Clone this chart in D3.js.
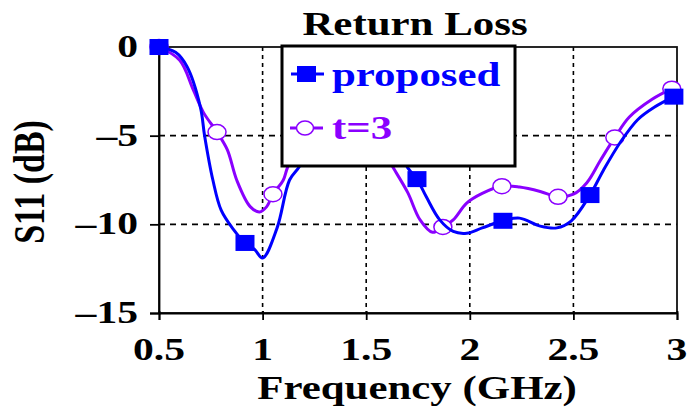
<!DOCTYPE html>
<html>
<head>
<meta charset="utf-8">
<script src="https://cdn.jsdelivr.net/npm/d3@7"></script>
<style>
  html, body { margin: 0; padding: 0; background: #fff; }
  svg { display: block; }
  text { font-family: "Liberation Serif", "Times New Roman", serif; font-weight: bold; }
</style>
</head>
<body>
<svg id="chart" width="689" height="407"></svg>
<script>
// Measured return loss, S11 (dB) vs frequency (GHz)
const proposedFreq = [0.50, 0.58, 0.635, 0.70, 0.72, 0.76, 0.80, 0.86, 0.915, 0.96, 1.00, 1.07, 1.13, 1.18,
  1.26, 1.33, 1.45, 1.60, 1.70, 1.745, 1.79, 1.855, 1.92, 1.985, 2.06, 2.16, 2.24, 2.34, 2.42, 2.49,
  2.58, 2.645, 2.725, 2.81, 2.89, 2.985];
const proposedS11 = [0, -0.3, -1.1, -3.4, -5.0, -7.5, -9.2, -10.3, -11.05, -11.4, -11.9, -10.2, -7.5, -6.7,
  -4.6, -3.0, -2.6, -4.5, -6.8, -7.45, -8.45, -9.75, -10.4, -10.5, -10.2, -9.8, -9.65, -10.1, -10.2, -9.8,
  -8.35, -6.95, -5.4, -4.1, -3.4, -2.8];
const proposedMarkIdx = [0, 8, 15, 19, 25, 30, 35];

const t3Freq = [0.50, 0.60, 0.665, 0.715, 0.78, 0.83, 0.875, 0.94, 0.985, 1.02, 1.05, 1.10, 1.12,
  1.22, 1.32, 1.45, 1.59, 1.63, 1.70, 1.76, 1.82, 1.87, 1.92, 1.985, 2.06, 2.155, 2.24, 2.34, 2.426,
  2.50, 2.565, 2.63, 2.70, 2.77, 2.88, 2.975];
const t3S11 = [0, -0.75, -2.4, -3.7, -4.8, -5.8, -7.5, -9.0, -9.3, -9.0, -8.3, -7.5, -6.8,
  -4.2, -2.6, -2.4, -6.0, -6.8, -8.2, -9.75, -10.45, -10.15, -9.75, -8.8, -8.25, -7.85, -7.9, -8.15, -8.45,
  -8.3, -7.65, -6.4, -5.1, -3.95, -2.95, -2.35];
const t3MarkIdx = [0, 4, 10, 14, 16, 21, 25, 28, 32, 35];

const xTicks = [0.5, 1, 1.5, 2, 2.5, 3];
const xTickLabels = ["0.5", "1", "1.5", "2", "2.5", "3"];
const yTicks = [0, -5, -10, -15];
const yTickLabels = ["0", "\u20135", "\u201310", "\u201315"];
const xGrid = [1, 1.5, 2, 2.5];
const yGrid = [-5, -10];

const seriesNames = ["proposed", "t=3"];
const titleText = "Return Loss";
const xTitle = "Frequency (GHz)";
const yTitle = "S11 (dB)";

const BLUE = "#0000ff";
const VIOLET = "#8a00ff";
const SX = 1.3; // horizontal stretch of the lettering

const svg = d3.select("#chart");
const plotL = 159, plotR = 677, plotT = 47, plotB = 313;

const x = d3.scaleLinear().domain([0.5, 3]).range([plotL, plotR]);
const y = d3.scaleLinear().domain([-15, 0]).range([plotB, plotT]);

function label(g, px, py, txt, size, anchor, fill) {
  return g.append("text")
    .attr("transform", `translate(${px},${py}) scale(${SX},1)`)
    .attr("text-anchor", anchor)
    .attr("font-size", size)
    .attr("fill", fill || "#000")
    .text(txt);
}

// grid
const grid = svg.append("g").attr("stroke", "#000").attr("stroke-width", 1.6);
grid.selectAll("line.v").data(xGrid).join("line").attr("class", "v")
  .attr("x1", d => x(d)).attr("x2", d => x(d))
  .attr("y1", plotT).attr("y2", plotB)
  .attr("stroke-dasharray", "4,4");
grid.selectAll("line.h").data(yGrid).join("line").attr("class", "h")
  .attr("x1", plotL).attr("x2", plotR)
  .attr("y1", d => y(d)).attr("y2", d => y(d))
  .attr("stroke-dasharray", "6,5");

// plot frame
svg.append("rect")
  .attr("x", plotL).attr("y", plotT)
  .attr("width", plotR - plotL).attr("height", plotB - plotT)
  .attr("fill", "none").attr("stroke", "#111").attr("stroke-width", 1.8);

// axes with outward ticks
const xAxis = d3.axisBottom(x).tickValues(xTicks).tickSize(7).tickFormat("");
svg.append("g").attr("transform", `translate(0,${plotB})`).call(xAxis)
  .call(g => g.select(".domain").attr("stroke-width", 1.8))
  .call(g => g.selectAll(".tick line").attr("stroke-width", 1.8).attr("y1", -2));
const yAxis = d3.axisLeft(y).tickValues(yTicks).tickSize(9).tickFormat("");
svg.append("g").attr("transform", `translate(${plotL},0)`).call(yAxis)
  .call(g => g.select(".domain").attr("stroke-width", 1.8))
  .call(g => g.selectAll(".tick line").attr("stroke-width", 1.8));

// tick labels
const lab = svg.append("g");
xTicks.forEach((t, i) => label(lab, x(t), 360, xTickLabels[i], 32, "middle"));
yTicks.forEach((t, i) => label(lab, 138, y(t) + 10, yTickLabels[i], 32, "end"));

// curves
const line = d3.line().curve(d3.curveCatmullRom.alpha(0.5));

function drawSeries(freq, vals, color) {
  const pts = freq.map((f, i) => [x(f), y(vals[i])]);
  svg.append("path").attr("d", line(pts))
    .attr("fill", "none").attr("stroke", color).attr("stroke-width", 3)
    .attr("stroke-linejoin", "round");
  return pts;
}

const t3Pts = drawSeries(t3Freq, t3S11, VIOLET);
svg.append("g").selectAll("ellipse").data(t3MarkIdx.map(i => t3Pts[i])).join("ellipse")
  .attr("cx", d => d[0]).attr("cy", d => d[1])
  .attr("rx", 9).attr("ry", 7.5)
  .attr("fill", "#fff").attr("stroke", VIOLET).attr("stroke-width", 1.5);

const propPts = drawSeries(proposedFreq, proposedS11, BLUE);
svg.append("g").selectAll("rect").data(proposedMarkIdx.map(i => propPts[i])).join("rect")
  .attr("x", d => d[0] - 9.5).attr("y", d => d[1] - 8)
  .attr("width", 19).attr("height", 16)
  .attr("fill", BLUE);

// legend
const lg = svg.append("g");
lg.append("rect").attr("x", 282).attr("y", 46).attr("width", 233).attr("height", 120)
  .attr("fill", "#fff").attr("stroke", "#000").attr("stroke-width", 3);
lg.append("line").attr("x1", 291).attr("x2", 324).attr("y1", 74).attr("y2", 74)
  .attr("stroke", BLUE).attr("stroke-width", 3);
lg.append("rect").attr("x", 297).attr("y", 66).attr("width", 19).attr("height", 16).attr("fill", BLUE);
label(lg, 332, 86, seriesNames[0], 33, "start", BLUE);
lg.append("line").attr("x1", 290).attr("x2", 323).attr("y1", 128).attr("y2", 128)
  .attr("stroke", VIOLET).attr("stroke-width", 3);
lg.append("ellipse").attr("cx", 305).attr("cy", 128).attr("rx", 8.5).attr("ry", 7)
  .attr("fill", "#fff").attr("stroke", VIOLET).attr("stroke-width", 1.5);
label(lg, 332, 139, seriesNames[1], 33, "start", VIOLET);

// titles
label(svg, 415, 35, titleText, 33, "middle");
label(svg, 417, 399, xTitle, 33, "middle");
svg.append("text")
  .attr("transform", `translate(44,182) scale(${SX},1) rotate(-90)`)
  .attr("text-anchor", "middle")
  .attr("font-size", 34)
  .text(yTitle);
</script>
</body>
</html>
